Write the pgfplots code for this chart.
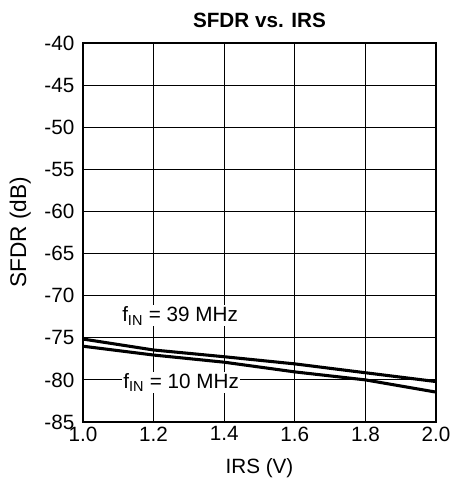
\documentclass[border=0pt]{standalone}
\usepackage{pgfplots}
\pgfplotsset{compat=1.18}
\usepackage{fontspec}
\setmainfont{Liberation Sans}
\begin{document}
\begin{tikzpicture}
\begin{axis}[
  at={(0,0)}, anchor=south west,
  scale only axis, width=264.75pt, height=284.25pt,
  xmin=1.0, xmax=2.0, ymin=-85, ymax=-40,
  xtick={1.0,1.2,...,2.0}, ytick={-85,-80,...,-40},
  grid=major, major grid style={black, line width=0.9pt},
  axis line style={black, line width=1.4pt},
  major tick length=0pt,
  /pgf/number format/assume math mode=true,
  xticklabel style={/pgf/number format/.cd, fixed, fixed zerofill, precision=1},
  yticklabel style={/pgf/number format/.cd, fixed, precision=0},
  ticklabel style={font=\fontsize{15.5}{17}\selectfont},
  xticklabel shift=0pt, yticklabel shift=3pt,
  xlabel={IRS (V)}, ylabel={SFDR (dB)},
  xlabel style={font=\fontsize{15.5}{17}\selectfont, at={(axis description cs:0.5,0)}, anchor=center, yshift=-34.5pt},
  ylabel style={font=\fontsize{17}{19}\selectfont, at={(axis description cs:0,0.5)}, anchor=center, rotate=0, xshift=0pt, yshift=47pt},
  title={SFDR vs. IRS},
  title style={font=\bfseries\fontsize{15.5}{17}\selectfont, at={(axis description cs:0.5,1)}, anchor=center, yshift=11pt},
  clip=true,
]
\addplot[black, line width=2.3pt] coordinates {
 (1.0,-75.15) (1.2,-76.45) (1.4,-77.25) (1.6,-78.1) (1.8,-79.15) (2.0,-80.2)};
\addplot[black, line width=2.3pt] coordinates {
 (1.0,-76.0) (1.2,-77.05) (1.4,-77.9) (1.6,-79.05) (1.8,-80.0) (2.0,-81.45)};
\node[fill=white, inner sep=1pt, font=\fontsize{15.5}{17}\selectfont] at (axis cs:1.275,-72.4) {f\textsubscript{IN} = 39 MHz};
\node[fill=white, inner sep=1pt, font=\fontsize{15.5}{17}\selectfont] at (axis cs:1.278,-80.3) {f\textsubscript{IN} = 10 MHz};
\end{axis}
\pgfresetboundingbox
\useasboundingbox (-62.25pt,-48.75pt) rectangle (276pt,316.5pt);
\end{tikzpicture}
\end{document}
